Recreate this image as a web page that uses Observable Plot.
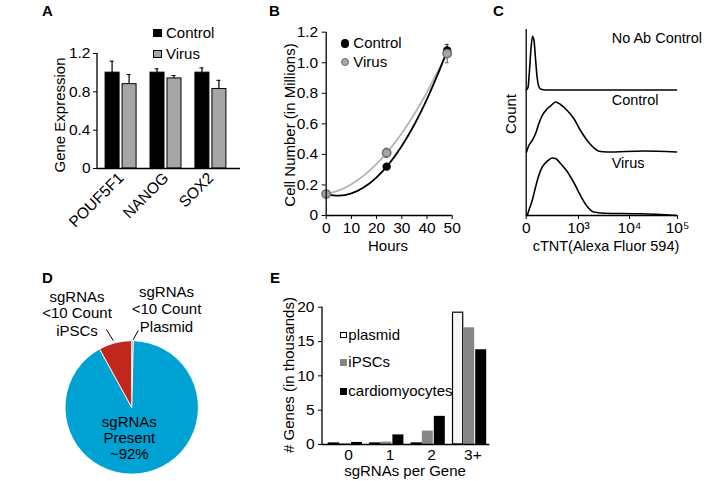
<!DOCTYPE html>
<html><head><meta charset="utf-8">
<script src="https://cdn.jsdelivr.net/npm/d3@7"></script>
<script src="https://cdn.jsdelivr.net/npm/@observablehq/plot@0.6"></script>
<style>
html,body{margin:0;padding:0;background:#fff;}
#fig{position:relative;width:709px;height:481px;overflow:hidden;font-family:"Liberation Sans",Arial,Helvetica,sans-serif;color:#000;}
.p{position:absolute;}
.t{position:absolute;white-space:nowrap;font-size:14.5px;line-height:14px;}
.sw{position:absolute;box-sizing:border-box;}
</style></head><body><div id="fig"></div>
<script>
// ---------- DATA ----------
// A: gene expression
const genes = ["POUF5F1", "NANOG", "SOX2"];
const geneControl = [1.0, 1.0, 1.0];
const geneControlErr = [0.12, 0.04, 0.05];
const geneVirus = [0.88, 0.94, 0.83];
const geneVirusErr = [0.10, 0.03, 0.09];
const geneTicks = [0, 0.4, 0.8, 1.2];

// B: cell growth
const hours = [0, 24, 48];
const cellsControl = [0.14, 0.32, 1.08];
const cellsControlErr = [0.01, 0.01, 0.04];
const cellsVirus = [0.14, 0.41, 1.06];
const cellsVirusErr = [0.01, 0.03, 0.06];
const trendHours = [0, 5, 10, 15, 20, 25, 30, 35, 40, 45, 48];
const trendControl = [0.14, 0.13, 0.145, 0.185, 0.25, 0.34, 0.455, 0.596, 0.762, 0.953, 1.08];
const trendVirus = [0.14, 0.164, 0.205, 0.263, 0.338, 0.43, 0.539, 0.665, 0.807, 0.967, 1.06];
const hourTicks = [0, 10, 20, 30, 40, 50];
const cellTicks = [0, 0.2, 0.4, 0.6, 0.8, 1.0, 1.2];

// C: flow cytometry histograms (x in display decades, count in arbitrary units)
const flowSeries = ["No Ab Control", "Control", "Virus"];
const flowOffset = [125.5, 63.5, 0];
const flowNoAbX = [0.006, 0.034, 0.063, 0.092, 0.120, 0.149, 0.178, 0.207, 0.235, 0.273, 0.369, 2.979];
const flowNoAbCount = [0.5, 2.5, 19.5, 41.5, 53.8, 49.5, 31.5, 13.5, 4.5, 1, 0, 0];
const flowControlX = [0.006, 0.050, 0.115, 0.178, 0.241, 0.306, 0.402, 0.497, 0.560, 0.656, 0.784, 0.910, 1.039, 1.171, 1.300, 1.398, 1.563, 2.292, 2.979];
const flowControlCount = [0, 6.5, 11.5, 18.2, 28.2, 36.5, 43.2, 47.5, 50, 47.5, 41.5, 33.5, 21.5, 11.5, 4.2, 0.8, 0, 1, 0];
const flowVirusX = [0.019, 0.050, 0.115, 0.178, 0.241, 0.306, 0.402, 0.497, 0.560, 0.656, 0.784, 0.910, 1.039, 1.171, 1.300, 1.496, 2.229, 2.979];
const flowVirusCount = [0, 5, 15, 28.3, 40, 48.3, 54.3, 57.5, 57, 52, 44, 33, 20, 9, 3.5, 2.3, 1.7, 0];
const flowTicks = [0, 1, 2, 3];
const flowTickLabels = ["0", "10³", "10⁴", "10⁵"];

// D: pie
const pieNames = ["sgRNAs <10 Count Plasmid", "sgRNAs Present", "sgRNAs <10 Count iPSCs"];
const pieValues = [0.4, 91.6, 8.0];
const pieColors = ["#3aaa6e", "#00a1d3", "#c1281d"];

// E: sgRNAs per gene
const guideBins = ["0", "1", "2", "3+"];
const guidePlasmid = [0.15, 0.15, 0.15, 19.2];
const guideIPSC = [0.12, 0.35, 1.95, 17.0];
const guideCardio = [0.3, 1.4, 4.1, 13.8];
const guideTicks = [0, 5, 10, 15, 20];

// ---------- HELPERS ----------
const FONT = '"Liberation Sans", Arial, Helvetica, sans-serif';
const baseStyle = {fontFamily: FONT, fontSize: "14.5px", color: "#000", background: "transparent", overflow: "visible"};
const TICKFS = 15.5;
const fig = document.getElementById("fig");
const NS = "http://www.w3.org/2000/svg";
const AX = 1.3;

function place(svg, left, top, w, h) {
  const d = document.createElement("div");
  d.className = "p";
  Object.assign(d.style, {left: left + "px", top: top + "px", width: w + "px", height: h + "px"});
  d.appendChild(svg);
  fig.appendChild(d);
}
function txt(str, x, y, o = {}) {
  const d = document.createElement("div");
  d.className = "t";
  d.textContent = str;
  const a = o.anchor || "start";
  const tx = a === "start" ? "0" : a === "middle" ? "-50%" : "-100%";
  Object.assign(d.style, {left: x + "px", top: y + "px", fontSize: (o.size || 14.5) + "px", fontWeight: o.bold ? "bold" : "normal",
    transform: `translate(${o.rotate ? "-50%" : tx},-50%)` + (o.rotate ? ` rotate(${o.rotate}deg)` : "")});
  fig.appendChild(d);
}
function swatch(x, y, w, h, fill, border, round) {
  const d = document.createElement("div");
  d.className = "sw";
  Object.assign(d.style, {left: x + "px", top: y + "px", width: w + "px", height: h + "px", background: fill,
    border: border ? "1px solid " + border : "none", borderRadius: round ? "50%" : "0"});
  fig.appendChild(d);
}
function leftAxisLine() {
  return (index, scales, values, dims) => {
    const l = document.createElementNS(NS, "line");
    l.setAttribute("x1", dims.marginLeft); l.setAttribute("x2", dims.marginLeft);
    l.setAttribute("y1", dims.marginTop); l.setAttribute("y2", dims.height - dims.marginBottom);
    l.setAttribute("stroke", "#000"); l.setAttribute("stroke-width", AX);
    return l;
  };
}
const fmt1 = d => d === 0 ? "0" : d.toFixed(1);

// ---------- PANEL A ----------
const dataA = genes.map((g, i) => ({gene: g, control: geneControl[i], cErr: geneControlErr[i], virus: geneVirus[i], vErr: geneVirusErr[i]}));
place(Plot.plot({
  width: 240, height: 250, marginLeft: 97, marginRight: 0, marginTop: 53, marginBottom: 82,
  style: baseStyle,
  x: {domain: genes, range: [97, 234], paddingInner: 0.31, paddingOuter: 0.18, round: false, label: null},
  y: {domain: [0, 1.2], label: null},
  marks: [
    Plot.barY(dataA, {x: "gene", y: "control", fill: "#000", stroke: "#000", insetRight: 17}),
    Plot.barY(dataA, {x: "gene", y: "virus", fill: "#a6a6a6", stroke: "#000", insetLeft: 17}),
    Plot.barY(dataA, {x: "gene", y1: "control", y2: d => d.control + d.cErr, fill: "#000", insetLeft: 6.4, insetRight: 23.4}),
    Plot.barY(dataA, {x: "gene", y1: "virus", y2: d => d.virus + d.vErr, fill: "#000", insetLeft: 23.4, insetRight: 6.4}),
    Plot.tickY(dataA, {x: "gene", y: d => d.control + d.cErr, stroke: "#000", insetLeft: 4.5, insetRight: 22.5}),
    Plot.tickY(dataA, {x: "gene", y: d => d.virus + d.vErr, stroke: "#000", insetLeft: 21.5, insetRight: 5.5}),
    Plot.ruleY([0], {stroke: "#000", strokeWidth: AX}),
    leftAxisLine(),
    Plot.axisY({ticks: geneTicks, tickSize: 4, tickPadding: 3, tickFormat: fmt1, fontSize: TICKFS, label: null}),
    Plot.axisX({tickSize: 0, tickRotate: -45, tickPadding: 7, fontSize: TICKFS, label: null})
  ]
}), 0, 0, 240, 250);

// ---------- PANEL B ----------
const pts = (xs, ys, es) => xs.map((x, i) => ({x, y: ys[i], e: es ? es[i] : 0}));
const bCtrl = pts(hours, cellsControl, cellsControlErr);
const bVir = pts(hours, cellsVirus, cellsVirusErr);
const tCtrl = pts(trendHours, trendControl);
const tVir = pts(trendHours, trendVirus);
const errMarks = (data, color) => [
  Plot.ruleX(data, {x: "x", y1: d => d.y - d.e, y2: d => d.y + d.e, stroke: color}),
  Plot.ruleY(data, {y: d => d.y + d.e, x1: d => d.x - 0.7, x2: d => d.x + 0.7, stroke: color}),
  Plot.ruleY(data, {y: d => d.y - d.e, x1: d => d.x - 0.7, x2: d => d.x + 0.7, stroke: color})
];
place(Plot.plot({
  width: 250, height: 250, marginLeft: 95.7, marginRight: 28.3, marginTop: 31.7, marginBottom: 35,
  style: baseStyle,
  x: {domain: [0, 50], label: null},
  y: {domain: [0, 1.2], label: null},
  marks: [
    Plot.line(tVir, {x: "x", y: "y", stroke: "#b3b3b3", strokeWidth: 1.8, curve: "natural"}),
    Plot.line(tCtrl, {x: "x", y: "y", stroke: "#000", strokeWidth: 1.8, curve: "natural"}),
    ...errMarks(bCtrl, "#000"),
    ...errMarks(bVir, "#555"),
    Plot.dot(bCtrl, {x: "x", y: "y", r: 4.2, fill: "#000"}),
    Plot.dot(bVir, {x: "x", y: "y", r: 4.2, fill: "#a6a6a6", stroke: "#6e6e6e"}),
    Plot.ruleX([0], {stroke: "#000", strokeWidth: AX}),
    Plot.ruleY([0], {stroke: "#000", strokeWidth: AX}),
    Plot.axisY({ticks: cellTicks, tickSize: 4, tickPadding: 4, tickFormat: fmt1, fontSize: TICKFS, label: null}),
    Plot.axisX({ticks: hourTicks, tickSize: 4, tickPadding: 2, fontSize: TICKFS, label: null})
  ]
}), 230, 0, 250, 250);

// ---------- PANEL C ----------
const flowX = [flowNoAbX, flowControlX, flowVirusX];
const flowC = [flowNoAbCount, flowControlCount, flowVirusCount];
const dataC = flowSeries.flatMap((s, k) => flowX[k].map((x, i) => ({series: s, x, y: flowC[k][i] + flowOffset[k]})));
place(Plot.plot({
  width: 239, height: 250, marginLeft: 55.7, marginRight: 32, marginTop: 29, marginBottom: 35,
  style: baseStyle,
  x: {type: "linear", domain: [0, 1, 2, 3], range: [55.7, 108, 159, 207], label: null},
  y: {domain: [0, 186], axis: null},
  marks: [
    Plot.line(dataC, {x: "x", y: "y", z: "series", stroke: "#000", strokeWidth: 1.6, curve: "monotone-x"}),
    Plot.ruleX([0], {stroke: "#000", strokeWidth: AX}),
    Plot.ruleY([0], {stroke: "#000", strokeWidth: AX}),
    Plot.axisX({ticks: flowTicks, tickFormat: d => flowTickLabels[d], tickSize: 4, tickPadding: 2, fontSize: TICKFS, label: null})
  ]
}), 470, 0, 239, 250);

// ---------- PANEL D ----------
const pieLeaders = [
  {name: pieNames[2], x1: -0.385, y1: 1.175, x2: -0.285, y2: 1.01},
  {name: pieNames[0], x1: 0.09, y1: 1.16, x2: 0.015, y2: 1.021}
];
function pieMark() {
  return (index, scales) => {
    const cx = scales.x(0), cy = scales.y(0), r = scales.x(1) - scales.x(0);
    const arcs = d3.pie().sort(null).value(d => d)(pieValues);
    const arc = d3.arc().innerRadius(0).outerRadius(r);
    const g = d3.create("svg:g").attr("transform", `translate(${cx},${cy})`);
    g.selectAll("path").data(arcs).join("path")
      .attr("d", arc).attr("fill", (d, i) => pieColors[i])
      .attr("stroke", "#fff").attr("stroke-width", 0.9).attr("stroke-linejoin", "round")
      .append("title").text((d, i) => pieNames[i]);
    return g.node();
  };
}
place(Plot.plot({
  width: 240, height: 231, marginLeft: 65, marginRight: 41.6, marginTop: 90.7, marginBottom: 6.9,
  style: baseStyle,
  x: {domain: [-1, 1], axis: null},
  y: {domain: [-1, 1], axis: null},
  marks: [
    pieMark(),
    Plot.link(pieLeaders, {x1: "x1", y1: "y1", x2: "x2", y2: "y2", stroke: "#000", strokeWidth: 1})
  ]
}), 0, 250, 240, 231);

// ---------- PANEL E ----------
const dataE = guideBins.map((b, i) => ({bin: b, plasmid: guidePlasmid[i], ipsc: guideIPSC[i], cardio: guideCardio[i]}));
place(Plot.plot({
  width: 240, height: 231, marginLeft: 62, marginRight: 10.7, marginTop: 56.7, marginBottom: 37,
  style: baseStyle,
  x: {domain: guideBins, range: [62, 232.5], paddingInner: 0.186, paddingOuter: 0.152, round: false, label: null},
  y: {domain: [0, 20], label: null},
  marks: [
    Plot.barY(dataE, {x: "bin", y: "plasmid", fill: "#f6f6f6", stroke: "#000", strokeWidth: 1.2, insetRight: 23.5}),
    Plot.barY(dataE, {x: "bin", y: "ipsc", fill: "#858585", insetLeft: 10.7, insetRight: 12}),
    Plot.barY(dataE, {x: "bin", y: "cardio", fill: "#000", insetLeft: 22.7}),
    Plot.ruleY([0], {stroke: "#000", strokeWidth: AX}),
    leftAxisLine(),
    Plot.axisY({ticks: guideTicks, tickSize: 4, tickPadding: 4, fontSize: TICKFS, label: null}),
    Plot.axisX({tickSize: 0, tickPadding: 4, dx: 3, fontSize: TICKFS, label: null})
  ]
}), 260, 250, 240, 231);

// ---------- TEXT, LEGENDS, ANNOTATIONS ----------
[["A", 42, 11], ["B", 269, 11], ["C", 493, 11], ["D", 42, 278], ["E", 270, 278]]
  .forEach(([s, x, y]) => txt(s, x, y, {bold: true, size: 15}));

// legend A
swatch(153.3, 29.3, 8.4, 7.6, "#000", null);
swatch(153.3, 50, 8.4, 7.6, "#a6a6a6", "#000");
txt("Control", 166, 33.3, {size: 15});
txt("Virus", 166, 53.8, {size: 15});
txt("Gene Expression", 60, 115, {rotate: -90, size: 15});

// legend B
swatch(341, 39.3, 8.4, 8.4, "#000", null, true);
swatch(341, 57.8, 8.4, 8.4, "#a6a6a6", "#6e6e6e", true);
txt("Control", 353.3, 43.3, {size: 15});
txt("Virus", 353.3, 62, {size: 15});
txt("Cell Number (in Millions)", 290, 125, {rotate: -90, size: 15});
txt("Hours", 388, 246, {anchor: "middle", size: 15});

// C
txt(flowSeries[0], 611.7, 38.3);
txt(flowSeries[1], 611.7, 99.7);
txt(flowSeries[2], 611.7, 163.3);
txt("Count", 511, 114, {rotate: -90, size: 15});
txt("cTNT(Alexa Fluor 594)", 606, 246, {anchor: "middle"});

// D
[["sgRNAs", 296.7], ["<10 Count", 313.3], ["iPSCs", 331]].forEach(([s, y]) => txt(s, 77, y, {anchor: "middle", size: 15}));
[["sgRNAs", 292.3], ["<10 Count", 309.3], ["Plasmid", 327.3]].forEach(([s, y]) => txt(s, 166.5, y, {anchor: "middle", size: 15}));
[["sgRNAs", 422], ["Present", 437.7], ["~92%", 454]].forEach(([s, y]) => txt(s, 129.3, y, {anchor: "middle", size: 15}));

// E
swatch(340, 331.5, 6.5, 6.5, "#fff", "#000");
swatch(340, 359.3, 6.5, 6.5, "#858585", null);
swatch(340, 388, 6.5, 6.5, "#000", null);
txt("plasmid", 348.3, 334.5, {size: 15});
txt("iPSCs", 348.3, 361.7, {size: 15});
txt("cardiomyocytes", 348.3, 390.8, {size: 15});
txt("# Genes (in thousands)", 288.5, 375, {rotate: -90, size: 15});
txt("sgRNAs per Gene", 405, 471, {anchor: "middle", size: 15});
</script></body></html>
